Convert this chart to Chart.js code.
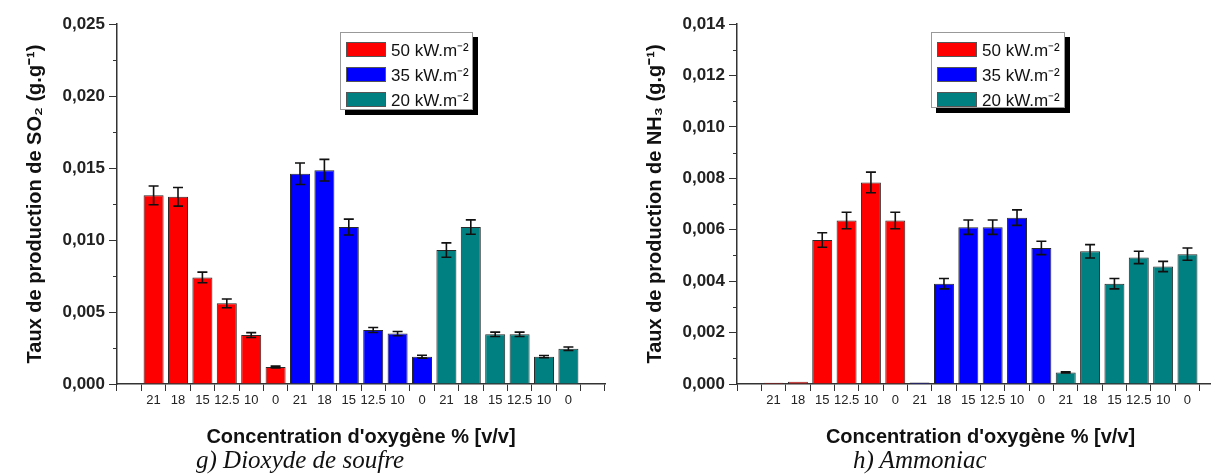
<!DOCTYPE html>
<html>
<head>
<meta charset="utf-8">
<script src="https://cdn.jsdelivr.net/npm/chart.js@4.4.1/dist/chart.umd.min.js"></script>
<style>
  html, body { margin: 0; padding: 0; background: #fff; }
  body { width: 1211px; height: 474px; overflow: hidden; position: relative; font-family: "Liberation Sans", Arial, sans-serif; }
  .wrap { position: absolute; top: 0; height: 474px; }
  .legend { position: absolute; background: #fff; border: 1px solid #999; box-shadow: 5px 5px 0 #000; box-sizing: border-box; }
  .legend .row { position: absolute; left: 5px; height: 18px; display: flex; align-items: center; }
  .legend .sw { width: 40px; height: 15px; box-sizing: border-box; border: 1px solid #555; margin-right: 5px; }
  .legend .tx { font-size: 17px; color: #111; white-space: nowrap; }
  .caption { position: absolute; font-family: "Liberation Serif", "Times New Roman", serif; font-style: italic; font-size: 25px; color: #111; white-space: nowrap; line-height: 1; }
</style>
</head>
<body>
<div class="wrap" style="left:0;width:620px;"><canvas id="c1" width="620" height="474"></canvas></div>
<div class="wrap" style="left:600px;width:640px;"><canvas id="c2" width="640" height="474"></canvas></div>
<div class="legend" id="lg1" style="left:340px;top:32px;width:133px;height:78px;"></div>
<div class="legend" id="lg2" style="left:931px;top:32px;width:134px;height:76px;"></div>
<div class="caption" style="left:196px;top:447px;">g) Dioxyde de soufre</div>
<div class="caption" style="left:853px;top:447px;">h) Ammoniac</div>
<script>
// ---------- data ----------
const categories = ['21', '18', '15', '12.5', '10', '0'];
const seriesNames = ['50 kW.m⁻²', '35 kW.m⁻²', '20 kW.m⁻²'];
const seriesColors = ['#ff0000', '#0000ff', '#008080'];

const so2_50 = [0.0131, 0.0130, 0.0074, 0.0056, 0.0034, 0.00118];
const so2_50_err = [0.00065, 0.00065, 0.00037, 0.0003, 0.00017, 0.00006];
const so2_35 = [0.0146, 0.01485, 0.0109, 0.00375, 0.0035, 0.0019];
const so2_35_err = [0.00075, 0.00075, 0.00055, 0.00017, 0.00015, 0.0001];
const so2_20 = [0.0093, 0.0109, 0.00345, 0.00345, 0.0019, 0.00245];
const so2_20_err = [0.0005, 0.0005, 0.00015, 0.00015, 0.00008, 0.00012];

const nh3_50 = [0.00005, 0.00009, 0.0056, 0.00636, 0.00784, 0.00636];
const nh3_50_err = [0, 0, 0.00028, 0.00032, 0.0004, 0.00032];
const nh3_35 = [0.00006, 0.0039, 0.0061, 0.0061, 0.00647, 0.00529];
const nh3_35_err = [0, 0.0002, 0.00028, 0.00028, 0.0003, 0.00026];
const nh3_20 = [0.00045, 0.00516, 0.0039, 0.00492, 0.00457, 0.00505];
const nh3_20_err = [0.00002, 0.00026, 0.0002, 0.00024, 0.0002, 0.00024];

const yTicksSO2 = { max: 0.025, step: 0.005 };
const yTicksNH3 = { max: 0.014, step: 0.002 };

const xTickLabels = [].concat(categories, categories, categories);

// ---------- helpers ----------
function makeDatasets(groups, errs) {
  return groups.map((vals, g) => ({
    label: seriesNames[g],
    data: vals.map((v, i) => ({ x: g * categories.length + i + 1, y: v })),
    errors: errs[g],
    backgroundColor: seriesColors[g],
    borderColor: '#2a2a2a',
    borderWidth: 1,
    borderSkipped: 'bottom',
    grouped: false,
    barPercentage: 0.82,
    categoryPercentage: 1.0
  }));
}

const errorBarPlugin = {
  id: 'errorBars',
  afterDatasetsDraw(chart) {
    const ctx = chart.ctx;
    const ys = chart.scales.y;
    ctx.save();
    ctx.strokeStyle = '#111';
    ctx.lineWidth = 1.6;
    chart.data.datasets.forEach((ds, di) => {
      const meta = chart.getDatasetMeta(di);
      meta.data.forEach((el, i) => {
        const e = ds.errors[i];
        if (!e) return;
        const v = ds.data[i].y;
        const yTop = ys.getPixelForValue(v + e);
        const yBot = ys.getPixelForValue(v - e);
        const x = el.x;
        const cap = 5;
        ctx.beginPath();
        ctx.moveTo(x, yTop); ctx.lineTo(x, yBot);
        ctx.moveTo(x - cap, yTop); ctx.lineTo(x + cap, yTop);
        ctx.moveTo(x - cap, yBot); ctx.lineTo(x + cap, yBot);
        ctx.stroke();
      });
    });
    ctx.restore();
  }
};

const minorTickPlugin = {
  id: 'minorTicks',
  afterDraw(chart) {
    const ys = chart.scales.y;
    const ctx = chart.ctx;
    const ticks = ys.ticks;
    ctx.save();
    ctx.strokeStyle = '#333';
    ctx.lineWidth = 1;
    for (let i = 0; i < ticks.length - 1; i++) {
      const mid = (ticks[i].value + ticks[i + 1].value) / 2;
      const py = Math.round(ys.getPixelForValue(mid)) + 0.5;
      ctx.beginPath();
      ctx.moveTo(ys.right, py);
      ctx.lineTo(ys.right - 4, py);
      ctx.stroke();
    }
    ctx.restore();
  }
};

function makeChart(id, datasets, yt, yTitle, opts) {
  return new Chart(document.getElementById(id), {
    type: 'bar',
    data: { datasets },
    plugins: [errorBarPlugin, minorTickPlugin],
    options: {
      responsive: false,
      animation: false,
      layout: { padding: { left: 0, top: 24, right: opts.padRight, bottom: 0 } },
      plugins: { legend: { display: false }, tooltip: { enabled: false } },
      scales: {
        x: {
          type: 'linear',
          min: 0,
          max: categories.length * 3 + 1,
          afterFit(s) { s.height = 90; },
          afterBuildTicks(s) {
            s.ticks = [];
            for (let v = 0; v <= categories.length * 3 + 1; v++) s.ticks.push({ value: v });
          },
          grid: { drawOnChartArea: false, drawTicks: true, tickLength: 7, tickColor: '#333', tickWidth: 1 },
          border: { display: true, color: '#333', width: 1.5 },
          ticks: {
            autoSkip: false,
            maxRotation: 0,
            padding: 2,
            color: '#222',
            font: { family: 'Liberation Sans', size: 13 },
            callback: (v) => (v >= 1 && v <= xTickLabels.length) ? xTickLabels[v - 1] : ''
          },
          title: {
            display: true,
            text: "Concentration d'oxygène % [v/v]",
            color: '#111',
            font: { family: 'Liberation Sans', size: 20, weight: 'bold' },
            padding: { top: 0, bottom: 25 }
          }
        },
        y: {
          min: 0,
          max: yt.max,
          afterFit(s) { s.width = opts.yWidth; },
          grid: { drawOnChartArea: false, drawTicks: true, tickLength: 8, tickColor: '#333', tickWidth: 1 },
          border: { display: true, color: '#333', width: 1.5 },
          ticks: {
            stepSize: yt.step,
            padding: 4,
            color: '#222',
            font: { family: 'Liberation Sans', size: 17, weight: 'bold' },
            callback: (v) => v.toFixed(3).replace('.', ',')
          },
          title: {
            display: true,
            text: yTitle,
            color: '#111',
            font: { family: 'Liberation Sans', size: 20, weight: 'bold' },
            padding: { top: opts.yTitlePad, bottom: 0 }
          }
        }
      }
    }
  });
}

const chart1 = makeChart('c1',
  makeDatasets([so2_50, so2_35, so2_20], [so2_50_err, so2_35_err, so2_20_err]),
  yTicksSO2, 'Taux de production de SO₂ (g.g⁻¹)',
  { padRight: 15, yWidth: 117, yTitlePad: 23 });

const chart2 = makeChart('c2',
  makeDatasets([nh3_50, nh3_35, nh3_20], [nh3_50_err, nh3_35_err, nh3_20_err]),
  yTicksNH3, 'Taux de production de NH₃ (g.g⁻¹)',
  { padRight: 16, yWidth: 137, yTitlePad: 43 });

function buildLegend(chart, el) {
  chart.data.datasets.forEach((ds, i) => {
    const row = document.createElement('div');
    row.className = 'row';
    row.style.top = (7 + i * 25) + 'px';
    const sw = document.createElement('span');
    sw.className = 'sw';
    sw.style.background = ds.backgroundColor;
    const tx = document.createElement('span');
    tx.className = 'tx';
    tx.textContent = ds.label;
    row.appendChild(sw); row.appendChild(tx);
    el.appendChild(row);
  });
}
buildLegend(chart1, document.getElementById('lg1'));
buildLegend(chart2, document.getElementById('lg2'));
</script>
</body>
</html>
